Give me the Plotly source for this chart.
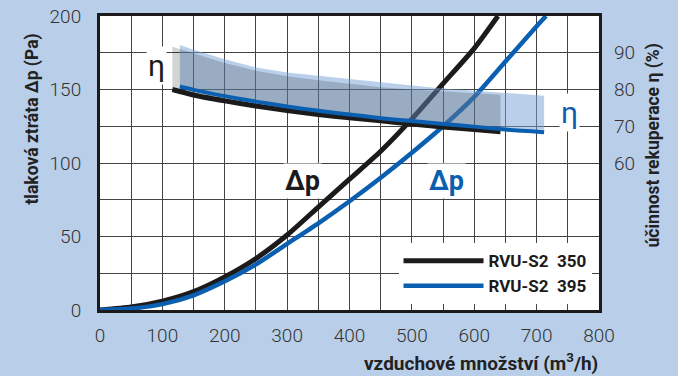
import plotly.graph_objects as go

# ---- data ----
flow_350 = [0, 50, 100, 150, 200, 250, 300, 350, 400, 450, 500, 550, 600, 638]
dp_350 = [0, 2, 6, 12.5, 22.5, 35, 51, 70, 89, 108, 130, 154, 178, 200]
flow_395 = [0, 50, 100, 150, 200, 250, 300, 350, 400, 450, 500, 550, 600, 650, 700, 715]
dp_395 = [0, 1, 4, 10, 19.5, 31, 45, 59, 74, 90, 107, 125, 145, 169, 193, 200]

eff_flow_350 = [116, 150, 200, 250, 300, 350, 400, 450, 500, 550, 600, 642]
eff_350 = [80.0, 78.5, 76.9, 75.5, 74.3, 73.2, 72.3, 71.5, 70.6, 69.8, 69.1, 68.5]
eff_top_350 = [91.6, 89.7, 87.2, 85.1, 83.6, 82.5, 81.5, 80.6, 80.0, 79.4, 79.0, 78.6]

eff_flow_395 = [128, 150, 200, 250, 300, 350, 400, 450, 500, 550, 600, 650, 712]
eff_395 = [80.8, 79.9, 78.2, 76.7, 75.4, 74.2, 73.2, 72.2, 71.4, 70.6, 69.9, 69.1, 68.4]
eff_top_395 = [92.1, 90.8, 88.2, 86.0, 84.6, 83.6, 82.8, 82.0, 81.1, 80.3, 79.7, 79.0, 78.3]

names = ["<b>RVU-S2\u00a0 350</b>", "<b>RVU-S2\u00a0 395</b>"]
x_ticks = [0, 100, 200, 300, 400, 500, 600, 700, 800]
y_ticks = [0, 50, 100, 150, 200]
y2_ticks = [60, 70, 80, 90]

BLACK = "#1c1a1a"
BLUE = "#0b5fb0"
BG = "#b9cfe9"
FONT = "Roboto"

fig = go.Figure()

# efficiency bands
fig.add_trace(go.Scatter(
    x=eff_flow_395 + eff_flow_395[::-1], y=eff_395 + eff_top_395[::-1],
    fill="toself", fillcolor="rgba(115,159,213,0.5)", line=dict(width=0),
    mode="lines", yaxis="y2", showlegend=False, hoverinfo="skip"))
fig.add_trace(go.Scatter(
    x=eff_flow_350 + eff_flow_350[::-1], y=eff_350 + eff_top_350[::-1],
    fill="toself", fillcolor="rgba(17,17,17,0.18)", line=dict(width=0),
    mode="lines", yaxis="y2", showlegend=False, hoverinfo="skip"))

# pressure curves
fig.add_trace(go.Scatter(x=flow_350, y=dp_350, mode="lines", name=names[0],
                         line=dict(color=BLACK, width=5, shape="spline", smoothing=0.6)))
fig.add_trace(go.Scatter(x=flow_395, y=dp_395, mode="lines", name=names[1],
                         line=dict(color=BLUE, width=4.5, shape="spline", smoothing=0.6)))

# efficiency curves
fig.add_trace(go.Scatter(x=eff_flow_350, y=eff_350, mode="lines", yaxis="y2",
                         showlegend=False,
                         line=dict(color=BLACK, width=5, shape="spline", smoothing=0.6)))
fig.add_trace(go.Scatter(x=eff_flow_395, y=eff_395, mode="lines", yaxis="y2",
                         showlegend=False,
                         line=dict(color=BLUE, width=4, shape="spline", smoothing=0.6)))

ann = []
# curve labels
ann.append(dict(x=90, y=166, xref="x", yref="y", text="η", showarrow=False,
                font=dict(family=FONT, size=30, color=BLACK), bgcolor="white"))
ann.append(dict(x=324, y=88, xref="x", yref="y", text="<b>Δp</b>", showarrow=False,
                font=dict(family=FONT, size=27, color=BLACK), bgcolor="white"))
ann.append(dict(x=556, y=88, xref="x", yref="y", text="<b>Δp</b>", showarrow=False,
                font=dict(family=FONT, size=27, color=BLUE), bgcolor="white"))
ann.append(dict(x=752, y=134.5, xref="x", yref="y", text="η", showarrow=False,
                font=dict(family=FONT, size=30, color=BLUE), bgcolor="white"))
# axis titles
ann.append(dict(x=-0.160, y=0.65, xref="paper", yref="paper", textangle=-90,
                text="<b>tlaková ztráta Δp (Pa)</b>", showarrow=False,
                font=dict(family=FONT, size=17.5, color="#222")))
ann.append(dict(x=1.134, y=0.561, xref="paper", yref="paper", textangle=-90,
                text="<b>účinnost rekuperace η (%)</b>", showarrow=False,
                font=dict(family=FONT, size=17.5, color="#222")))
ann.append(dict(x=1.002, y=-0.18, xref="paper", yref="paper", xanchor="right",
                yanchor="middle",
                text="<b>vzduchové množství (m<sup>3</sup>/h)</b>", showarrow=False,
                font=dict(family=FONT, size=19, color="#222")))

tickfont = dict(family=FONT, size=19, color="#333", weight=300)

fig.update_layout(
    width=678, height=376,
    margin=dict(l=100, r=79, t=16, b=66, autoexpand=False),
    paper_bgcolor=BG, plot_bgcolor="white",
    annotations=ann,
    xaxis=dict(range=[0, 800], tickvals=x_ticks, ticktext=[str(v) for v in x_ticks],
               showgrid=True, gridcolor="#444", gridwidth=1,
               minor=dict(dtick=50, showgrid=True, gridcolor="#444", gridwidth=1),
               showline=True, linecolor=BLACK, linewidth=3, mirror=True,
               ticks="", ticklabelstandoff=6, automargin=False,
               tickfont=tickfont, zeroline=False),
    yaxis=dict(range=[0, 200], tickvals=y_ticks, ticktext=[str(v) for v in y_ticks],
               showgrid=True, gridcolor="#444", gridwidth=1,
               minor=dict(dtick=25, showgrid=True, gridcolor="#444", gridwidth=1),
               showline=True, linecolor=BLACK, linewidth=3, mirror=True,
               ticks="", ticklabelstandoff=12, automargin=False,
               tickfont=tickfont, zeroline=False),
    yaxis2=dict(range=[20, 100], overlaying="y", side="right",
                tickvals=y2_ticks, ticktext=[str(v) for v in y2_ticks],
                showgrid=False, zeroline=False, ticks="", ticklabelstandoff=14,
                automargin=False, tickfont=tickfont),
    legend=dict(x=0.985, y=0.02, xanchor="right", yanchor="bottom",
                bgcolor="white", borderwidth=0, itemwidth=80,
                font=dict(family=FONT, size=17, color=BLACK), tracegroupgap=0,
                traceorder="normal"),
    showlegend=True,
)

fig.write_html("out.html", config={"displayModeBar": False},
               post_script="document.body.style.margin='0';document.body.style.padding='0';")
